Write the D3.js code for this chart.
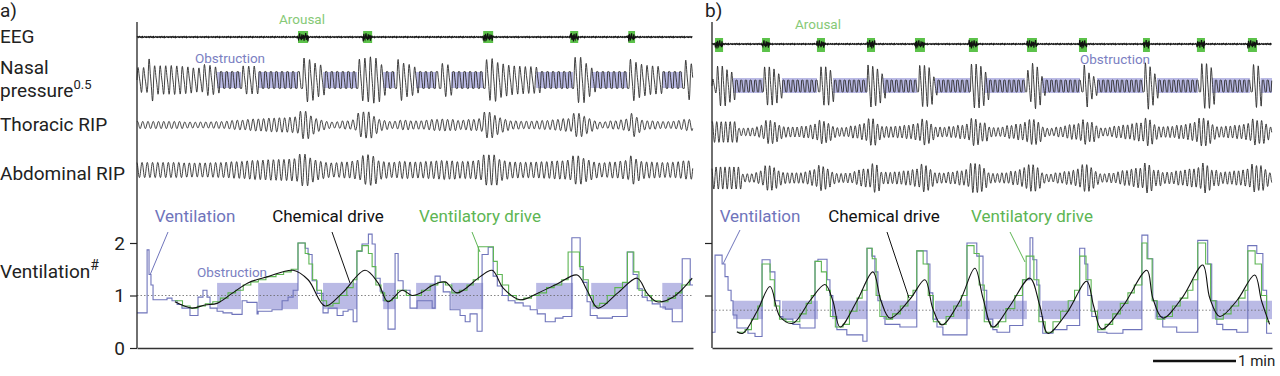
<!DOCTYPE html>
<html>
<head>
<meta charset="utf-8">
<script src="https://cdn.jsdelivr.net/npm/d3@7"></script>
<style>
  body { margin: 0; background: #fff; }
  svg { font-family: Roboto, "DejaVu Sans", sans-serif; }
</style>
</head>
<body>
<div id="chart"></div>
<script>
// ---------------- data (time in seconds, values relative to eupnea) ----------------
var yTicks = [0, 1, 2];

// panel a: breath-by-breath ventilation (step starts)
var ventA = [[0,0.67],[7.3,1.87],[8.7,1.4],[10.1,1.2],[11.6,0.92],[21.7,0.95],[25.3,0.9],[29,0.83],[32.5,0.76],
  [38.3,0.62],[44.1,0.97],[47.7,1.1],[50.6,0.97],[52.8,0.76],[57.9,0.7],[62.2,0.67],[68.7,0.64],[76,0.9],
  [79.5,0.87],[86.8,0.65],[87.6,0.7],[97.6,0.73],[104.9,0.9],[109.2,0.97],[112.9,1.1],[116.4,2.0],[121.6,1.9],
  [123.7,1.78],[126.6,1.28],[130.2,1.04],[134.5,0.67],[138.2,0.76],[144.7,0.62],[149,0.7],[152.6,0.73],
  [156.3,0.5],[159,1.84],[162.7,1.98],[167.3,2.17],[170,1.98],[172.2,1.33],[175.8,1.08],[178,0.9],[181.5,0.36],
  [186.6,1.8],[188.8,1.28],[192.4,1.1],[197.4,0.76],[202.5,0.9],[213.4,0.76],[215.5,1.37],[219.2,1.25],
  [221.4,1.07],[226.4,0.73],[233.6,0.62],[237.3,0.5],[240.8,0.65],[245.9,0.32],[249.5,1.78],[253.9,1.92],
  [257.5,1.37],[260.5,1.18],[264.1,1.0],[268.4,0.9],[273.3,0.86],[279.2,0.8],[284.3,0.73],[289.4,0.65],
  [295.2,0.5],[302.4,0.57],[308,0.6],[314.4,2.1],[320.4,1.5],[322.6,1.25],[325.4,0.88],[327.7,0.62],
  [332.7,0.57],[343.7,0.6],[354.4,1.83],[358.7,1.4],[361.7,1.13],[365.3,0.97],[368.9,0.9],[372.5,0.84],
  [378.3,0.78],[382,0.74],[387,0.5],[394.2,1.7],[400,1.2]];

// panel a: ventilatory drive (step starts)
var driveA = [[27.4,0.9],[32.9,0.8],[38.4,0.76],[43.9,0.8],[49.4,0.84],[54.8,0.88],[60.3,0.95],[65.8,1.05],
  [71.3,1.1],[76.8,1.2],[82.3,1.26],[87.7,1.3],[93.2,1.36],[100.5,1.4],[106,1.45],[111.5,1.5],[116.4,2.0],
  [121.6,1.8],[124.3,1.6],[127,1.3],[129.8,1.1],[133.4,0.9],[137.1,0.8],[141.7,0.85],[146.2,1.0],[151.7,1.15],
  [156.3,1.3],[159,1.85],[162.7,1.95],[167.3,1.8],[170,1.55],[172.7,1.2],[176.4,1.05],[179.1,0.9],[184.6,0.95],
  [188.3,1.1],[194.7,1.0],[200.2,1.0],[205.7,1.1],[212,1.2],[217.5,1.25],[223,1.2],[227.6,1.05],[233.1,1.1],
  [238.6,1.2],[243.1,1.3],[246.8,1.93],[254.1,1.93],[257.7,1.65],[260.5,1.4],[264.1,1.2],[268.7,1.0],
  [274.2,0.92],[279.7,0.95],[285.2,1.0],[290.7,1.05],[296.1,1.15],[301.6,1.2],[307.1,1.3],[311.7,1.83],
  [319.9,1.55],[322.6,1.3],[326.3,1.0],[330,0.8],[334.5,0.85],[340,1.0],[345.5,1.15],[351,1.25],[354.6,1.83],
  [359.2,1.45],[362.9,1.1],[367.4,1.0],[372,0.9],[378.4,0.88],[383.9,0.95],[389.4,1.05],[393.9,1.2],[399.4,1.3]];

// panel a: chemical drive
var chemA = [[27.4,0.88],[39.8,0.76],[49.2,0.82],[57.9,0.85],[68.7,1.04],[80.2,1.24],[94.8,1.36],[112.9,1.48],
  [123.7,1.3],[136,0.8],[148.2,1.04],[164.9,1.48],[174.3,1.24],[181.5,0.88],[191.7,1.1],[198.9,1.0],
  [206.1,1.06],[212,1.17],[222.8,1.26],[231.4,1.05],[248.1,1.36],[256.8,1.48],[264.8,1.14],[276.9,0.92],
  [289.4,1.04],[303.8,1.22],[318.3,1.39],[325.4,1.1],[333.4,0.76],[347.2,1.04],[361.7,1.33],[368.9,1.04],
  [376.1,0.88],[387.7,0.97],[401.4,1.33]];

var obstA = [[57.9,75.2],[87.6,116.4],[134.5,159.1],[178,186.6],[201.8,216.3],[227.1,250.3],[288.6,315.3],
  [328.4,354.4],[379.8,394.2]];
var arousalA = [[116.4,123.7],[163.5,170],[250.3,257.5],[313.2,319],[355.2,360.1]];
var obstLevelA = [0.74, 1.24];
var eupneaA = 1;

// panel b
var ventB = [[0,0.3],[2.2,1.77],[7.3,1.6],[9.4,1.36],[11.6,1.1],[13.8,0.9],[15.2,0.63],[18,0.38],[26,0.28],
  [31.1,0.22],[36.2,1.68],[42,1.45],[45.5,0.9],[49.1,0.6],[51.3,0.55],[58.5,0.45],[63.6,0.38],[74.5,1.65],
  [76.6,1.69],[83.2,1.3],[85.3,1.0],[87.4,0.6],[90.3,0.35],[97.5,0.25],[109.1,0.13],[112.1,1.9],[115.6,1.75],
  [117.8,1.45],[120,0.9],[122.9,0.6],[125.1,0.45],[135.9,0.4],[148.1,1.85],[155.5,1.6],[157.6,1.05],
  [159.7,0.55],[162.7,0.4],[167,0.25],[184.4,2.0],[191.5,1.75],[196,1.1],[198.7,0.55],[203.1,0.35],[206.1,0.3],
  [215.3,0.43],[224.8,1.3],[230,2.1],[232,1.68],[234.9,1.2],[237.1,0.6],[239.2,0.28],[246.6,0.35],[256.7,0.43],
  [265.9,1.9],[269.6,1.6],[271.8,1.0],[274.7,0.6],[279,0.3],[285.6,0.28],[297.2,0.35],[310.9,2.15],[315.2,1.7],
  [318.8,0.9],[321.6,0.6],[326,0.4],[336.1,0.3],[351.3,2.05],[358.5,1.6],[361.4,0.9],[365.1,0.45],[369.4,0.35],
  [379.5,0.3],[387.5,1.95],[394,1.8],[398.4,1.1],[401.1,0.28]];

var driveB = [[18.4,0.3],[23.9,0.35],[28.5,0.55],[33.1,0.8],[36.2,1.6],[42,1.3],[45.1,0.8],[48.8,0.55],[53.4,0.5],
  [58.9,0.5],[63.5,0.65],[68.1,0.85],[71.8,1.0],[74.5,1.65],[79.1,1.45],[82.8,1.1],[85.6,0.6],[89.2,0.4],
  [94.8,0.45],[99.4,0.7],[104.9,0.95],[108.6,1.1],[112.1,1.9],[115.9,1.7],[118.7,1.0],[121.4,0.6],[126,0.55],
  [130.6,0.65],[136.2,0.8],[141.7,1.0],[145.4,1.1],[148.1,1.85],[152.7,1.6],[156.4,1.0],[160.1,0.5],[164.7,0.45],
  [169.3,0.6],[174.8,0.8],[180.3,1.0],[184.4,1.95],[189.5,1.8],[193.2,1.2],[196.9,0.5],[201.5,0.4],[207,0.5],
  [212.5,0.75],[219,1.0],[224.5,1.3],[227.2,1.75],[232.8,1.3],[236.4,0.5],[241,0.3],[246.6,0.5],[252.1,0.7],
  [257.6,0.9],[262.2,1.1],[265.9,1.75],[270.5,1.3],[274.2,0.7],[278.8,0.35],[284.3,0.45],[289.8,0.65],
  [295.3,0.85],[300.8,1.05],[305.4,1.2],[310.9,2.0],[314.6,1.7],[318.3,0.9],[322,0.55],[327.5,0.6],[333,0.8],
  [338.6,0.95],[344.1,1.1],[347.8,1.3],[351.3,2.0],[357,1.6],[360.6,0.9],[364.3,0.55],[369.8,0.65],[375.4,0.8],
  [380.9,0.95],[385.5,1.1],[387.5,1.85],[392.8,1.6],[397.4,1.0],[401.1,0.5]];

var chemB = [[18,0.31],[22.4,0.28],[32.6,0.7],[42,1.17],[49.1,0.6],[58.5,0.47],[70.8,0.9],[81.7,1.21],[87.4,0.9],
  [92.6,0.4],[104.9,0.9],[116.4,1.45],[122.2,0.9],[128.7,0.57],[143.2,0.93],[154,1.3],[159.7,0.75],[166.2,0.44],
  [179.3,0.9],[190.1,1.52],[196,0.95],[203.1,0.4],[215.4,0.8],[229.9,1.33],[237.1,0.8],[242.9,0.28],[256.7,0.67],
  [271,1.27],[276,0.8],[281.9,0.36],[297.2,0.8],[314.5,1.48],[318.8,0.95],[326,0.57],[340.4,0.97],[354.9,1.58],
  [360,0.95],[367.2,0.6],[379.5,0.9],[392.5,1.39],[397.4,0.9],[403.3,0.45]];

var obstB = [[15.2,36.8],[50.6,76.6],[86.8,112.1],[123.6,148.1],[161.2,186.5],[197.3,227.7],[238.6,266],
  [279,310.9],[320.2,351.3],[361.4,405]];
var obstTopB = [[15.2,36.9],[50.6,75.9],[87.5,112.1],[123.6,148.2],[161.3,186.6],[197.4,226.3],[238.6,266.1],
  [278.4,311.7],[321.8,351.4],[361.5,389],[396.7,405]];
var arousalB = [[2.2,8],[36.2,41.9],[75.9,81.7],[112.1,117.9],[146.8,154],[185.8,192.3],[227.8,235],
  [265.4,271.2],[311.7,316.7],[350.7,356.5],[387.6,394.1]];
var obstLevelB = [0.55, 0.9];
var eupneaB = 0.72;

var scaleBarSeconds = 60;
var eegNoise = [0.2,-0.5,0.8,-0.3,0.1,-0.9,0.6,0.3,-0.4,1.0,-0.7,0.2,0.5,-0.2,-0.8,0.4,-0.1,0.7,-0.6,0.3];

// ---------------- drawing ----------------
var svgWidth = 1280, svgHeight = 376;
var svg = d3.select("#chart").append("svg")
    .attr("width", svgWidth)
    .attr("height", svgHeight);

var purple = "#6f74bb", green = "#5db553", obstFill = "#aeaee0", ink = "#222", trace = "#2b2b2b";

var y = d3.scaleLinear().domain([0, 2]).range([348, 243]);

var panels = [
  { name: "a)", nameX: 0, x: d3.scaleLinear().domain([0, 402]).range([137, 693]),
    vent: ventA, drive: driveA, chem: chemA, obst: obstA, obstTop: obstA, arousal: arousalA,
    level: obstLevelA, eupnea: eupneaA, period: 4.0, ripRest: 0.9,
    rows: { eeg: 37, nasal: 80, thor: 125, abd: 170 }, nasalBand: [72, 88], box: [31, 43],
    nasalAmp: function (v) { return 7 + 6.5 * v; }, nasalObst: 8.5,
    thorAmp: function (d) { return 1 + 3.2 * d * d; }, abdAmp: function (d) { return 5.5 + 2.6 * d * d; } },
  { name: "b)", nameX: 705, x: d3.scaleLinear().domain([0, 405]).range([712, 1272]),
    vent: ventB, drive: driveB, chem: chemB, obst: obstB, obstTop: obstTopB, arousal: arousalB,
    level: obstLevelB, eupnea: eupneaB, period: 3.4, ripRest: 1.4,
    rows: { eeg: 44, nasal: 86, thor: 132, abd: 178 }, nasalBand: [78, 93], box: [38, 52],
    nasalAmp: function (v) { return 4 + 8 * v; }, nasalObst: 6,
    thorAmp: function (d) { return 2 + 6 * d; }, abdAmp: function (d) { return 2 + 6.5 * d; } }
];

function stepAt(steps, t) {
  var i = d3.bisector(function (d) { return d[0]; }).right(steps, t) - 1;
  return steps[Math.max(0, i)][1];
}
function inAny(list, t) {
  return list.some(function (iv) { return t >= iv[0] && t < iv[1]; });
}
function withEnd(steps, tEnd) {
  return steps.concat([[tEnd, steps[steps.length - 1][1]]]);
}

panels.forEach(function (p) {
  var g = svg.append("g");
  var x = p.x, t1 = x.domain()[1];
  var times = d3.range(0, t1, 0.2);

  // obstruction shading on nasal pressure
  g.selectAll(".obstTop").data(p.obstTop).enter().append("rect")
    .attr("x", function (d) { return x(d[0]); })
    .attr("width", function (d) { return x(d[1]) - x(d[0]); })
    .attr("y", p.nasalBand[0]).attr("height", p.nasalBand[1] - p.nasalBand[0])
    .attr("fill", obstFill).attr("opacity", 0.85);

  // arousal boxes on EEG
  g.selectAll(".arousal").data(p.arousal).enter().append("rect")
    .attr("x", function (d) { return x(d[0]); })
    .attr("width", function (d) { return x(d[1]) - x(d[0]); })
    .attr("y", p.box[0]).attr("height", p.box[1] - p.box[0])
    .attr("fill", "#5cc24a");

  // obstruction shading on ventilation
  g.selectAll(".obstBot").data(p.obst).enter().append("rect")
    .attr("x", function (d) { return x(d[0]); })
    .attr("width", function (d) { return x(d[1]) - x(d[0]); })
    .attr("y", y(p.level[1])).attr("height", y(p.level[0]) - y(p.level[1]))
    .attr("fill", obstFill).attr("opacity", 0.85);

  var line = d3.line().x(function (d) { return x(d[0]); }).y(function (d) { return d[1]; });

  // EEG
  var eeg = times.filter(function (t, i) { return i % 2 === 0; }).map(function (t, i) {
    var k = eegNoise[i % eegNoise.length];
    return [t, p.rows.eeg + k * (inAny(p.arousal, t) ? 4.5 : 0.6)];
  });
  g.append("path").attr("d", line(eeg)).attr("fill", "none").attr("stroke", "#111").attr("stroke-width", 1.2);

  // nasal pressure
  var nasal = times.map(function (t) {
    var bt = Math.floor(t / p.period) * p.period;
    var ph = (t - bt) / p.period;
    var s = Math.sin(2 * Math.PI * ph) + 0.25 * Math.sin(4 * Math.PI * ph);
    var amp;
    if (inAny(p.obstTop, bt)) {
      s = Math.max(-1, Math.min(1, 1.7 * s));
      amp = p.nasalObst;
    } else {
      amp = p.nasalAmp(stepAt(p.vent, bt));
    }
    return [t, p.rows.nasal - amp * s];
  });
  g.append("path").attr("d", line(nasal)).attr("fill", "none").attr("stroke", trace).attr("stroke-width", 0.9);

  // RIP bands, amplitude follows ventilatory drive
  function rip(row, ampFn, period, lag) {
    return times.map(function (t) {
      var bt = Math.floor((t + lag) / period) * period - lag;
      var ph = (t - bt) / period;
      var d = bt < p.drive[0][0] ? p.ripRest : stepAt(p.drive, bt);
      return [t, row - ampFn(d) * Math.sin(2 * Math.PI * ph)];
    });
  }
  g.append("path").attr("d", line(rip(p.rows.thor, p.thorAmp, p.period * 0.95, 0.6)))
    .attr("fill", "none").attr("stroke", trace).attr("stroke-width", 0.9);
  g.append("path").attr("d", line(rip(p.rows.abd, p.abdAmp, p.period * 0.95, 1.1)))
    .attr("fill", "none").attr("stroke", trace).attr("stroke-width", 0.9);

  // eupnea dotted line
  g.append("line")
    .attr("x1", x(0)).attr("x2", x(t1))
    .attr("y1", y(p.eupnea)).attr("y2", y(p.eupnea))
    .attr("stroke", "#666").attr("stroke-width", 0.8).attr("stroke-dasharray", "1.5,2");

  var stepLine = d3.line().curve(d3.curveStepAfter)
    .x(function (d) { return x(d[0]); }).y(function (d) { return y(d[1]); });

  g.append("path").attr("d", stepLine(withEnd(p.vent, t1)))
    .attr("fill", "none").attr("stroke", purple).attr("stroke-width", 1.1);
  g.append("path").attr("d", stepLine(withEnd(p.drive, p.chem[p.chem.length - 1][0])))
    .attr("fill", "none").attr("stroke", green).attr("stroke-width", 1.1);

  var smooth = d3.line().curve(d3.curveCatmullRom.alpha(0.5))
    .x(function (d) { return x(d[0]); }).y(function (d) { return y(d[1]); });
  g.append("path").attr("d", smooth(p.chem))
    .attr("fill", "none").attr("stroke", "#111").attr("stroke-width", 1.1);

  // axes
  g.append("line").attr("x1", x(0)).attr("x2", x(0)).attr("y1", 22).attr("y2", y(0))
    .attr("stroke", ink).attr("stroke-width", 1.3);
  g.append("g").attr("transform", "translate(0," + y(0) + ")")
    .call(d3.axisBottom(x).tickValues([]).tickSizeOuter(0))
    .call(function (s) { s.select(".domain").attr("stroke", "#333").attr("stroke-width", 1.6); });

  var yAxis = d3.axisLeft(y).tickSize(7).tickPadding(5)
    .tickValues(p.name === "a)" ? yTicks : yTicks.slice(1))
    .tickFormat(p.name === "a)" ? d3.format("d") : "");
  g.append("g").attr("transform", "translate(" + x(0) + ",0)").call(yAxis)
    .call(function (s) {
      s.select(".domain").remove();
      s.selectAll("line").attr("stroke", ink).attr("stroke-width", 1.2);
      s.selectAll("text").attr("font-size", 19).attr("fill", ink).attr("font-family", "Roboto");
    });

  g.append("text").attr("x", p.nameX).attr("y", 17).attr("font-size", 19).attr("fill", ink).text(p.name);
});

// ---------------- labels ----------------
var leftLabels = svg.append("g").attr("font-size", 19).attr("fill", ink);
leftLabels.append("text").attr("x", 0).attr("y", 43).text("EEG");
leftLabels.append("text").attr("x", 0).attr("y", 74).text("Nasal");
var pr = leftLabels.append("text").attr("x", 0).attr("y", 97).text("pressure");
pr.append("tspan").attr("dy", -8).attr("font-size", 13).text("0.5");
leftLabels.append("text").attr("x", 0).attr("y", 131).text("Thoracic RIP");
leftLabels.append("text").attr("x", 0).attr("y", 180).text("Abdominal RIP");
var vl = leftLabels.append("text").attr("x", 0).attr("y", 278).text("Ventilation");
vl.append("tspan").attr("dy", -8).attr("font-size", 14).text("#");

function note(xp, yp, txt, color, size) {
  svg.append("text").attr("x", xp).attr("y", yp).attr("text-anchor", "middle")
    .attr("font-size", size).attr("fill", color).text(txt);
}
var arousalText = "#86c977", obstText = "#7b80c2";
note(302, 24, "Arousal", arousalText, 13.5);
note(818, 29, "Arousal", arousalText, 13.5);
note(230, 63, "Obstruction", obstText, 13.5);
note(1115, 64, "Obstruction", obstText, 13.5);
note(232, 277, "Obstruction", obstText, 13.5);

note(195, 222, "Ventilation", purple, 17);
note(328, 222, "Chemical drive", "#111", 17);
note(480, 222, "Ventilatory drive", green, 17);
note(760, 222, "Ventilation", purple, 17);
note(884, 222, "Chemical drive", "#111", 17);
note(1032, 222, "Ventilatory drive", green, 17);

// leader lines
var leaders = [
  [168, 232, 150, 275, purple], [332, 232, 350, 283, "#111"], [472, 232, 480, 252, green],
  [740, 230, 723, 264, purple], [887, 232, 909, 298, "#111"], [1010, 232, 1025, 262, green]
];
svg.selectAll(".leader").data(leaders).enter().append("line")
  .attr("x1", function (d) { return d[0]; }).attr("y1", function (d) { return d[1]; })
  .attr("x2", function (d) { return d[2]; }).attr("y2", function (d) { return d[3]; })
  .attr("stroke", function (d) { return d[4]; }).attr("stroke-width", 1);

// scale bar
var xb = panels[1].x;
var barLen = xb(scaleBarSeconds) - xb(0);
svg.append("line").attr("x1", 1236 - barLen).attr("x2", 1236).attr("y1", 361).attr("y2", 361)
  .attr("stroke", "#111").attr("stroke-width", 2.5);
svg.append("text").attr("x", 1238).attr("y", 366).attr("font-size", 15).attr("fill", ink).text("1 min");
</script>
</body>
</html>
